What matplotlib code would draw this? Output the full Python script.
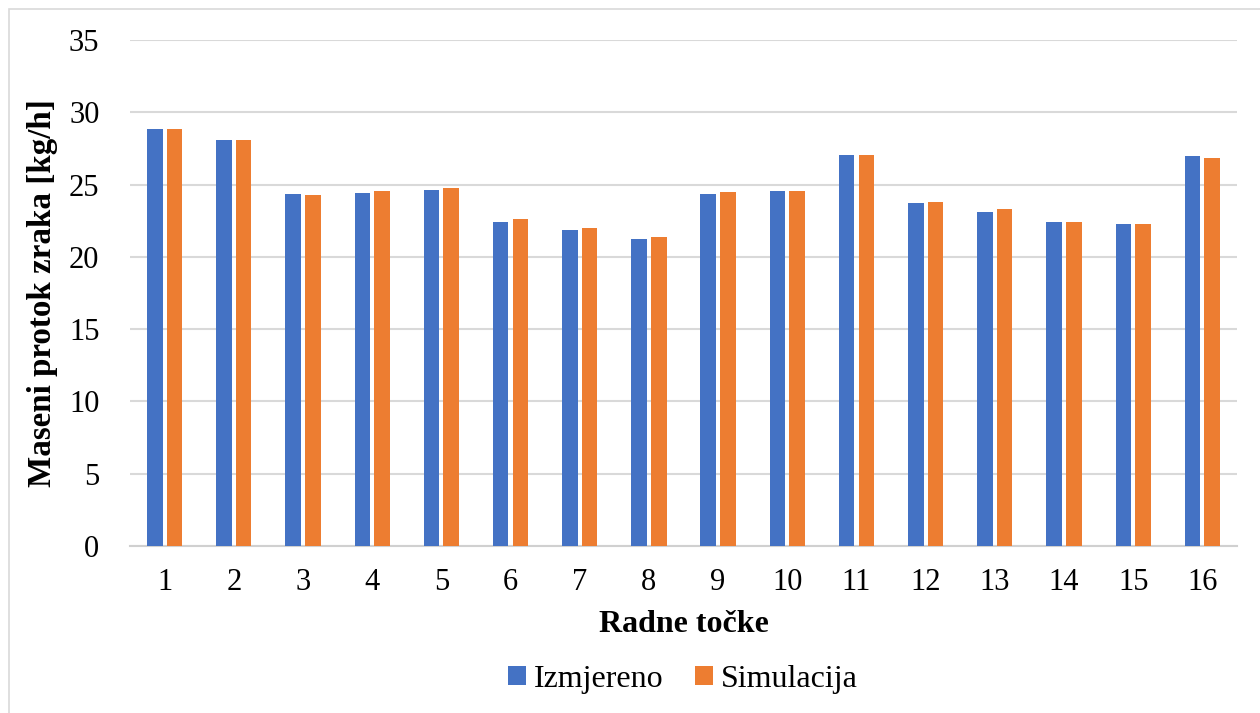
import matplotlib
matplotlib.use("Agg")
import matplotlib.pyplot as plt
import numpy as np
from matplotlib.patches import Rectangle

categories = ["1", "2", "3", "4", "5", "6", "7", "8", "9", "10", "11", "12", "13", "14", "15", "16"]
izmjereno = [28.82, 28.11, 24.33, 24.45, 24.60, 22.39, 21.84, 21.21, 24.38, 24.56, 27.08, 23.71, 23.10, 22.41, 22.27, 27.00]
simulacija = [28.82, 28.06, 24.29, 24.56, 24.74, 22.62, 22.00, 21.40, 24.47, 24.54, 27.08, 23.80, 23.29, 22.41, 22.25, 26.86]
yticks = [0, 5, 10, 15, 20, 25, 30, 35]

plt.rcParams['font.family'] = ['Liberation Serif', 'DejaVu Serif']

fig = plt.figure(figsize=(12.6, 7.13), dpi=100)
ax = fig.add_axes([130/1260, 1 - 546/713, (1237-130)/1260, (546-40)/713])

# outer light border (left and top visible)
fig.patches.append(Rectangle((9/1260, -0.1), 1.0, 1.1 - 9/713, transform=fig.transFigure,
                             fill=False, edgecolor='#d9d9d9', linewidth=1.2))

x = np.arange(len(categories))
w = 0.225
gap = 0.06
ax.bar(x - (w + gap) / 2, izmjereno, width=w, color='#4472C4', label='Izmjereno', zorder=3)
ax.bar(x + (w + gap) / 2, simulacija, width=w, color='#ED7D31', label='Simulacija', zorder=3)

ax.set_xlim(-0.5, len(categories) - 0.5)
ax.set_ylim(0, 35)
ax.set_yticks(yticks)
ax.set_xticks(x)
ax.set_xticklabels(categories)
ax.yaxis.grid(True, color='#d9d9d9', linewidth=1.5, zorder=0)
ax.set_axisbelow(True)
for s in ['top', 'right', 'left']:
    ax.spines[s].set_visible(False)
ax.spines['bottom'].set_color('#d0d0d0')
ax.spines['bottom'].set_linewidth(1.5)
ax.tick_params(axis='both', length=0, labelsize=22, colors='black')
ax.tick_params(axis='y', pad=22)
ax.tick_params(axis='x', pad=16)

ax.set_xlabel('Radne točke', fontsize=23, fontweight='bold', labelpad=9)
ax.set_ylabel('Maseni protok zraka [kg/h]', fontsize=23.8, fontweight='bold', labelpad=8)

leg = fig.legend(loc='center', bbox_to_anchor=(683/1260, 1 - 679/713), ncol=2, frameon=False,
                 fontsize=23, handlelength=0.55, handleheight=0.55, handletextpad=0.25,
                 columnspacing=1.0)

fig.savefig('out.png', dpi=100)
